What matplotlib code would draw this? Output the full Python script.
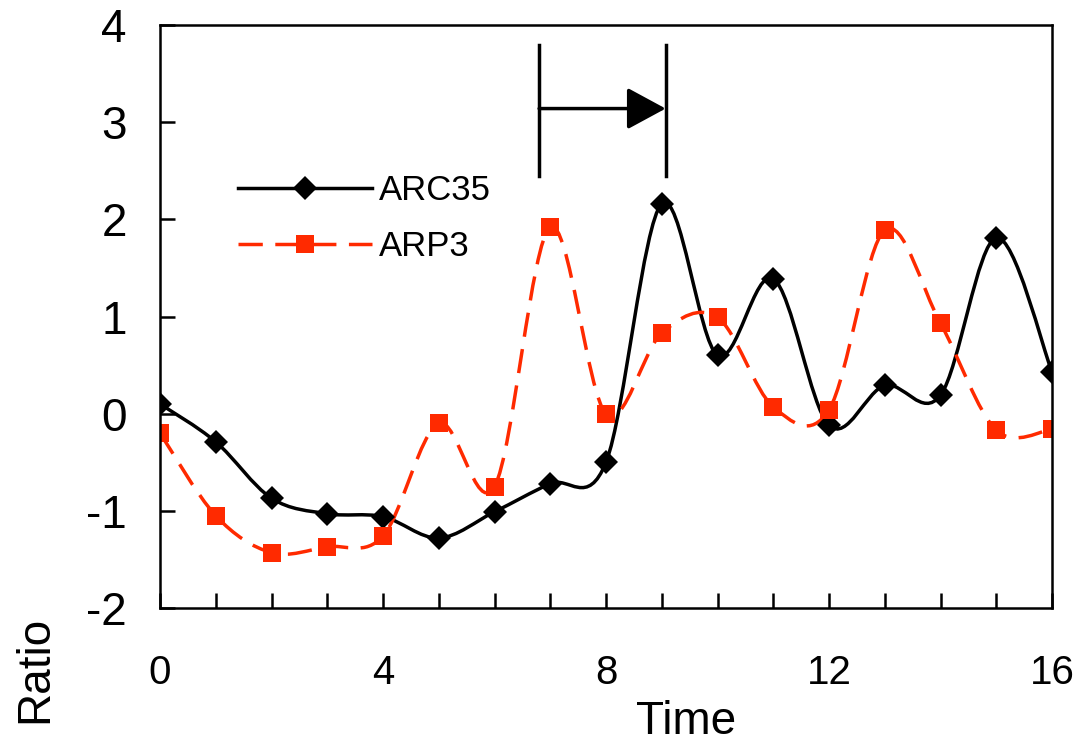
import numpy as np
import matplotlib
matplotlib.use("Agg")
import matplotlib.pyplot as plt
from matplotlib.path import Path
from matplotlib.patches import PathPatch
from matplotlib.lines import Line2D

plt.rcParams['font.family'] = ['Liberation Sans', 'DejaVu Sans']

# values
time = list(range(17))
arc35 = [0.10, -0.29, -0.87, -1.03, -1.06, -1.28, -1.01, -0.72, -0.50,
         2.16, 0.60, 1.39, -0.12, 0.29, 0.19, 1.81, 0.43]
arp3 = [-0.20, -1.05, -1.43, -1.37, -1.26, -0.10, -0.75, 1.92, 0.00,
        0.83, 0.99, 0.07, 0.04, 1.89, 0.93, -0.17, -0.16]

x_major = [0, 4, 8, 12, 16]
y_ticks = [-2, -1, 0, 1, 2, 3, 4]
y_labels = ['-2', '-1', '0', '1', '2', '3', '4']

# shift marker: two bars and an arrow between them
bracket_x = [6.8, 9.07]
bracket_y = [2.45, 3.79]
arrow_y = 3.14

RED = '#FF2A00'
LW = 2.5


def smooth_path(xs, ys):
    # Excel-like smoothed line: cubic bezier through every point
    pts = np.column_stack([xs, ys]).astype(float)
    n = len(pts)
    verts = [pts[0]]
    codes = [Path.MOVETO]
    for i in range(n - 1):
        p0 = pts[i - 1] if i > 0 else pts[i]
        p1 = pts[i]
        p2 = pts[i + 1]
        p3 = pts[i + 2] if i + 2 < n else pts[i + 1]
        verts += [p1 + (p2 - p0) / 6, p2 - (p3 - p1) / 6, p2]
        codes += [Path.CURVE4] * 3
    return Path(verts, codes)


fig = plt.figure(figsize=(10.91, 7.42), dpi=100)
ax = fig.add_axes([160 / 1091, 1 - 608 / 742, 892 / 1091, 583 / 742])

dash = (7, 3.6)

ax.add_patch(PathPatch(smooth_path(time, arc35), fill=False, color='black', lw=LW))
ax.plot(time, arc35, ls='none', marker='D', ms=12.5, color='black', mew=0)

ax.add_patch(PathPatch(smooth_path(time, arp3), fill=False, color=RED, lw=LW,
                       linestyle=(0, dash)))
ax.plot(time, arp3, ls='none', marker='s', ms=13.5, color=RED, mew=0)

# arrow annotation
for bx in bracket_x:
    ax.plot([bx, bx], bracket_y, color='black', lw=LW)
ax.annotate('', xy=(bracket_x[1], arrow_y), xytext=(bracket_x[0], arrow_y),
            arrowprops=dict(arrowstyle='-|>,head_length=1.2,head_width=0.65',
                            mutation_scale=20, lw=LW, color='black',
                            shrinkA=0, shrinkB=0))

ax.set_xlim(0, 16)
ax.set_ylim(-2, 4)
ax.set_xticks(x_major)
ax.set_xticks(time, minor=True)
ax.set_yticks(y_ticks)
ax.set_yticklabels(y_labels)
ax.tick_params(axis='both', which='both', direction='in', length=11, width=1.8,
               top=False, right=False)
ax.tick_params(axis='x', which='major', labelsize=29, pad=33)
ax.tick_params(axis='y', which='major', labelsize=33, pad=24)
for s in ax.spines.values():
    s.set_linewidth(1.8)

handles = [
    Line2D([], [], color='black', lw=LW, marker='D', ms=12.5, mew=0),
    Line2D([], [], color=RED, lw=LW, ls=(0, dash), marker='s', ms=13.5, mew=0),
]
ax.legend(handles, ['ARC35', 'ARP3'], loc='upper left',
          bbox_to_anchor=(64 / 892, 1 - 135 / 583), frameon=False,
          fontsize=25, handlelength=3.85, handletextpad=0.2,
          labelspacing=0.68, borderaxespad=0)

fig.text(686 / 1091, 8 / 742, 'Time', fontsize=33, ha='center', va='baseline')
fig.text(35 / 1091, 1 - 669 / 742, 'Ratio', fontsize=33, rotation=90,
         ha='center', va='center')

fig.savefig('out.png', dpi=100)
